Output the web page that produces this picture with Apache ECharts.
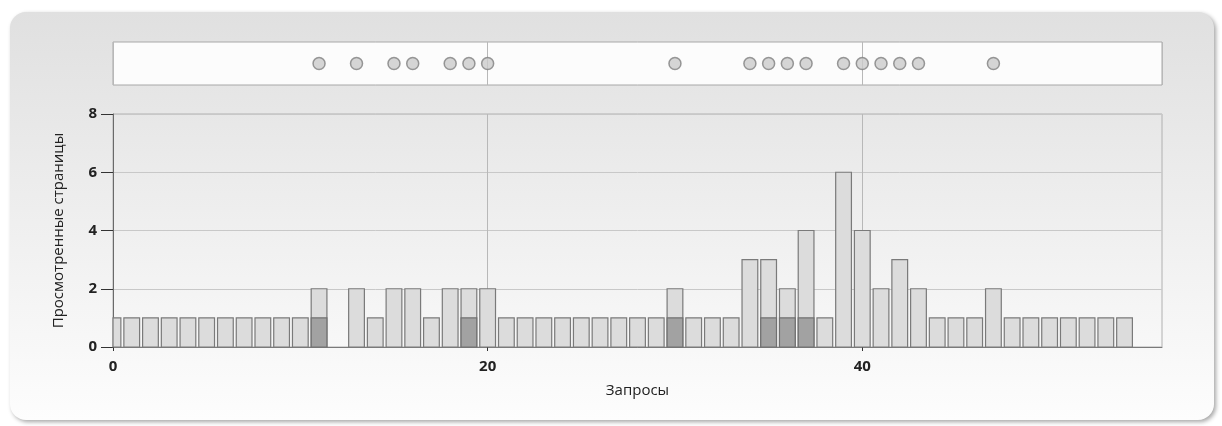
<!DOCTYPE html>
<html>
<head>
<meta charset="utf-8">
<script src="https://cdn.jsdelivr.net/npm/echarts@6/dist/echarts.min.js"></script>
<style>html,body{margin:0;padding:0;background:#fff;}#c{width:1222px;height:426px;}</style>
</head>
<body>
<div id="c"></div>
<script>
// Data
var queryIndex = [];
for (var i = 0; i < 56; i++) queryIndex.push(i);
var totalPages = [1,1,1,1,1,1,1,1,1,1,1,2,0,2,1,2,2,1,2,2,2,1,1,1,1,1,1,1,1,1,2,1,1,1,3,3,2,4,1,6,4,2,3,2,1,1,1,2,1,1,1,1,1,1,1,0];
var darkPages  = [0,0,0,0,0,0,0,0,0,0,0,1,0,0,0,0,0,0,0,1,0,0,0,0,0,0,0,0,0,0,1,0,0,0,0,1,1,1,0,0,0,0,0,0,0,0,0,0,0,0,0,0,0,0,0,0];
var dotQueries = [11,13,15,16,18,19,20,30,34,35,36,37,39,40,41,42,43,47];
var xTicks = [0,20,40];
var yAxisName = 'Просмотренные страницы';
var xAxisName = 'Запросы';

var lightData = [], darkData = [], dotData = [];
for (var k = 0; k < queryIndex.length; k++) {
  if (totalPages[k] > 0) lightData.push([queryIndex[k], totalPages[k]]);
  if (darkPages[k] > 0) darkData.push([queryIndex[k], darkPages[k]]);
}
for (var d = 0; d < dotQueries.length; d++) dotData.push([dotQueries[d], 0.5]);

var BAR_UNITS = 0.84;
function barRenderer(fill, stroke) {
  return function (params, api) {
    var x = api.value(0), y = api.value(1);
    var p0 = api.coord([x, 0]);
    var p1 = api.coord([x, y]);
    var w = api.size([BAR_UNITS, 0])[0];
    var rect = echarts.graphic.clipRectByRect(
      { x: p0[0] - w / 2, y: p1[1], width: w, height: p0[1] - p1[1] },
      { x: params.coordSys.x, y: params.coordSys.y, width: params.coordSys.width, height: params.coordSys.height }
    );
    if (!rect) return;
    return { type: 'rect', shape: rect, style: { fill: fill, stroke: stroke, lineWidth: 1.2 } };
  };
}

var FONT = 'Open Sans';
var chart = echarts.init(document.getElementById('c'));
chart.setOption({
  animation: false,
  backgroundColor: '#ffffff',
  graphic: [{
    type: 'rect', z: -10, silent: true,
    shape: { x: 10, y: 12, width: 1204, height: 408, r: 16 },
    style: {
      fill: new echarts.graphic.LinearGradient(0, 0, 0, 1, [
        { offset: 0, color: '#e0e0e0' }, { offset: 1, color: '#fdfdfd' }
      ]),
      shadowBlur: 4, shadowOffsetX: 2, shadowOffsetY: 2, shadowColor: 'rgba(0,0,0,0.35)'
    }
  }],
  grid: [
    { left: 113, top: 42, width: 1049, height: 43, show: true, backgroundColor: '#fcfcfc', borderColor: '#a8a8a8', borderWidth: 1 },
    { left: 113, top: 114, width: 1049, height: 233, show: true, backgroundColor: 'transparent', borderColor: '#b0b0b0', borderWidth: 1 }
  ],
  xAxis: [
    { gridIndex: 0, type: 'value', min: 0, max: 56, interval: 20,
      axisLine: { show: false }, axisTick: { show: false }, axisLabel: { show: false },
      splitLine: { show: true, lineStyle: { color: '#b8b8b8', width: 1 } } },
    { gridIndex: 1, type: 'value', min: 0, max: 56, interval: 20,
      name: xAxisName, nameLocation: 'middle', nameGap: 36,
      nameTextStyle: { fontFamily: FONT, fontSize: 15, color: '#222' },
      axisLine: { show: true, onZero: false, lineStyle: { color: '#7a7a7a', width: 1 } },
      axisTick: { show: true, length: 4, lineStyle: { color: '#333' }, customValues: xTicks },
      axisLabel: { fontFamily: FONT, fontSize: 15, fontWeight: 'bold', color: '#222', margin: 12, customValues: xTicks },
      splitLine: { show: true, lineStyle: { color: '#b8b8b8', width: 1 } } }
  ],
  yAxis: [
    { gridIndex: 0, type: 'value', min: 0, max: 1, show: false },
    { gridIndex: 1, type: 'value', min: 0, max: 8, interval: 2,
      name: yAxisName, nameLocation: 'middle', nameGap: 47, nameRotate: 90,
      nameTextStyle: { fontFamily: FONT, fontSize: 15, color: '#222' },
      axisLine: { show: true, lineStyle: { color: '#6a6a6a', width: 1 } },
      axisTick: { show: true, inside: false, length: 12, lineStyle: { color: '#333' } },
      axisLabel: { fontFamily: FONT, fontSize: 15, fontWeight: 'bold', color: '#222', margin: 16 },
      splitLine: { show: true, lineStyle: { color: '#c8c8c8', width: 1 } } }
  ],
  series: [
    { type: 'scatter', xAxisIndex: 0, yAxisIndex: 0, data: dotData, symbol: 'circle', symbolSize: 12,
      itemStyle: { color: '#cbcbcb', borderColor: '#808080', borderWidth: 1.5 } },
    { type: 'custom', xAxisIndex: 1, yAxisIndex: 1, data: lightData, encode: { x: 0, y: 1 }, z: 2,
      renderItem: barRenderer('#dcdcdc', '#7a7a7a') },
    { type: 'custom', xAxisIndex: 1, yAxisIndex: 1, data: darkData, encode: { x: 0, y: 1 }, z: 3,
      renderItem: barRenderer('#a2a2a2', '#707070') }
  ]
});
</script>
</body>
</html>
